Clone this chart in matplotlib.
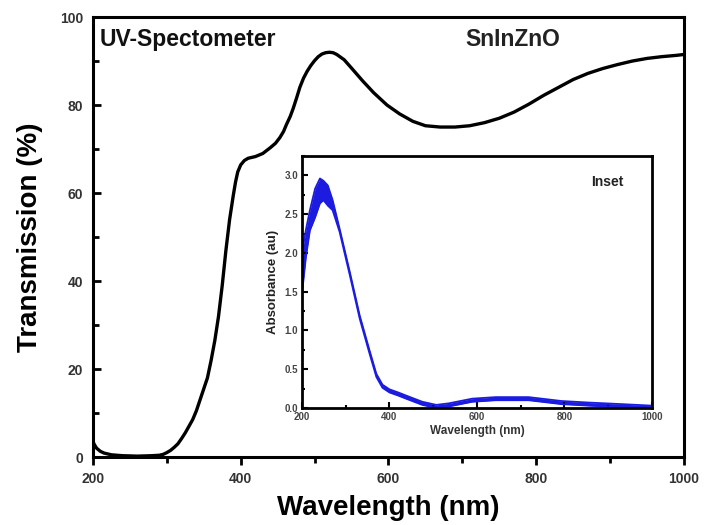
import matplotlib
matplotlib.use("Agg")
import matplotlib.pyplot as plt
from matplotlib.ticker import MultipleLocator

# -----------------------------------
# Data
# -----------------------------------

wl = [200, 202, 205, 210, 215, 225, 240, 260, 280, 290, 295, 300, 305,
      310, 315, 320, 325, 330, 335, 340, 345, 350, 355, 360, 365, 370,
      375, 380, 385, 390, 393, 396, 400, 405, 410, 420, 430, 440, 447,
      453, 458, 462, 467, 471, 476, 480, 485, 490, 495, 500, 505, 510,
      515, 520, 525, 530, 540, 550, 565, 580, 598, 615, 633, 650, 670,
      690, 710, 730, 750, 770, 790, 810, 830, 850, 870, 890, 910, 930,
      950, 970, 990, 1000]

transmission = [3.5, 2.8, 2.0, 1.3, 0.9, 0.5, 0.3, 0.2, 0.3, 0.4, 0.6,
                1.0, 1.5, 2.2, 3.0, 4.2, 5.5, 7.0, 8.5, 10.5, 13, 15.5,
                18, 22, 26.5, 32, 39, 47, 54, 59.5, 62.5, 64.8, 66.4,
                67.4, 67.9, 68.3, 69, 70.3, 71.3, 72.6, 74, 75.6, 77.4,
                79.2, 81.8, 84, 86.1, 87.7, 89, 90.1, 91, 91.6, 91.9, 92,
                91.9, 91.5, 90.3, 88.4, 85.5, 82.8, 80, 78, 76.3, 75.3, 75,
                75, 75.3, 76, 77, 78.4, 80.2, 82.2, 84, 85.8, 87.2, 88.3,
                89.2, 90, 90.6, 91, 91.3, 91.5]

abs_wl = [200, 209, 218, 230, 241, 249, 259, 270, 286, 309, 332, 355,
          370, 384, 400, 420, 438, 475, 507, 536, 589, 643, 718, 793,
          855, 930, 1000]

abs_upper = [2.0, 2.3, 2.55, 2.83, 2.96, 2.93, 2.87, 2.68, 2.31, 1.76,
             1.19, 0.73, 0.44, 0.3, 0.24, 0.2, 0.16, 0.08, 0.04, 0.06,
             0.12, 0.14, 0.14, 0.09, 0.07, 0.05, 0.03]

abs_lower = [1.48, 1.95, 2.29, 2.46, 2.64, 2.68, 2.61, 2.55, 2.27, 1.72,
             1.15, 0.69, 0.4, 0.26, 0.2, 0.16, 0.12, 0.04, 0.0, 0.02,
             0.08, 0.10, 0.10, 0.05, 0.03, 0.01, 0.0]

# -----------------------------------
# Main plot
# -----------------------------------

plt.rcParams["font.family"] = ["Liberation Sans", "DejaVu Sans"]
plt.rcParams["font.weight"] = "bold"

fig = plt.figure(figsize=(7.04, 5.25), dpi=100)

ax = fig.add_axes([0.132, 0.1295, 0.8396, 0.838])

ax.plot(wl, transmission, color="black", linewidth=2.4,
        solid_joinstyle="round")

ax.set_xlim(200, 1000)
ax.set_ylim(0, 100)

ax.xaxis.set_major_locator(MultipleLocator(200))
ax.xaxis.set_minor_locator(MultipleLocator(100))
ax.yaxis.set_major_locator(MultipleLocator(20))
ax.yaxis.set_minor_locator(MultipleLocator(10))

ax.tick_params(axis="y", which="both", direction="in", width=2,
               labelsize=10, labelcolor="#333333", pad=7)
ax.tick_params(axis="x", which="both", direction="out", width=2,
               labelsize=10, labelcolor="#333333", pad=5)
ax.tick_params(which="major", length=6)
ax.tick_params(which="minor", length=4)

for s in ax.spines.values():
    s.set_linewidth(2.2)

ax.set_xlabel("Wavelength (nm)", fontsize=20, fontweight="bold",
              labelpad=6)
ax.set_ylabel("Transmission (%)", fontsize=20, fontweight="bold",
              labelpad=12)

ax.text(0.012, 0.935, "UV-Spectometer", transform=ax.transAxes,
        fontsize=16.5, fontweight="bold", color="#111111")
ax.text(0.71, 0.935, "SnInZnO", transform=ax.transAxes,
        fontsize=16.5, fontweight="bold", color="#222222",
        ha="center")

# -----------------------------------
# Inset
# -----------------------------------

ins = fig.add_axes([0.429, 0.2229, 0.497, 0.48])

ins.fill_between(abs_wl, abs_lower, abs_upper, color="#1c1ce0",
                 linewidth=0)
ins.plot(abs_wl, abs_upper, color="#1c1ce0", linewidth=1.3)
ins.plot(abs_wl, abs_lower, color="#1c1ce0", linewidth=1.3)

ins.set_xlim(200, 1000)
ins.set_ylim(0, 3.25)

ins.xaxis.set_major_locator(MultipleLocator(200))
ins.xaxis.set_minor_locator(MultipleLocator(100))
ins.yaxis.set_major_locator(MultipleLocator(0.5))
ins.yaxis.set_minor_locator(MultipleLocator(0.25))

ins.tick_params(which="both", direction="in", width=1.5,
                labelsize=7, labelcolor="#444444", pad=3)
ins.tick_params(which="major", length=4)
ins.tick_params(which="minor", length=2.5)

for s in ins.spines.values():
    s.set_linewidth(2)

ins.set_xlabel("Wavelength (nm)", fontsize=8.5, fontweight="bold",
               color="#333333", labelpad=2)
ins.set_ylabel("Absorbance (au)", fontsize=9.5, fontweight="bold",
               color="#222222", labelpad=4)

ins.text(0.92, 0.88, "Inset", transform=ins.transAxes, fontsize=10,
         fontweight="bold", color="#222222", ha="right")

plt.savefig("out.png", dpi=100)
